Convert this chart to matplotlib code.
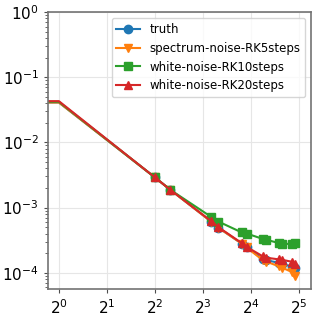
import matplotlib
matplotlib.use("Agg")
import matplotlib.pyplot as plt
import numpy as np

x = [0, 1, 4, 5, 9, 10, 14, 15, 19, 20, 24, 25, 29, 30]
truth = [0.041, 0.041, 0.0029, 0.00187, 6.1e-4, 4.9e-4, 2.8e-4, 2.45e-4,
         1.62e-4, 1.55e-4, 1.42e-4, 1.38e-4, 1.23e-4, 1.17e-4]
spectrum_rk5 = [0.041, 0.041, 0.0029, 0.00187, 6.1e-4, 4.9e-4, 2.8e-4, 2.45e-4,
                1.55e-4, 1.48e-4, 1.25e-4, 1.2e-4, 1.02e-4, 8.8e-5]
white_rk10 = [0.042, 0.042, 0.0029, 0.00187, 7.2e-4, 6.1e-4, 4.15e-4, 4.0e-4,
              3.3e-4, 3.2e-4, 2.85e-4, 2.8e-4, 2.75e-4, 2.9e-4]
white_rk20 = [0.043, 0.043, 0.0029, 0.00187, 6.2e-4, 5.0e-4, 2.85e-4, 2.5e-4,
              1.78e-4, 1.7e-4, 1.6e-4, 1.58e-4, 1.47e-4, 1.38e-4]
labels = ["truth", "spectrum-noise-RK5steps", "white-noise-RK10steps", "white-noise-RK20steps"]
markers = ["o", "v", "s", "^"]
colors = ["#1f77b4", "#ff7f0e", "#2ca02c", "#d62728"]
xticks = [1, 2, 4, 8, 16, 32]
yticks = [1e-4, 1e-3, 1e-2, 1e-1, 1e0]

fig = plt.figure(figsize=(3.19, 3.19), dpi=100)
ax = fig.add_axes([0.150, 0.094, 0.825, 0.868])
for y, lab, m, c in zip([truth, spectrum_rk5, white_rk10, white_rk20], labels, markers, colors):
    ax.plot(x, y, marker=m, color=c, label=lab, lw=1.5, ms=6, markevery=list(range(2, len(x))))
ax.set_xscale("log", base=2)
ax.set_yscale("log")
ax.set_xticks(xticks)
ax.set_xticks([], minor=True)
ax.set_yticks(yticks)
ax.set_xlim(2 ** -0.23, 2 ** 5.25)
ax.set_ylim(10 ** -4.25, 1)
ax.grid(True, which="major", color="0.9", lw=0.8)
for s in ax.spines.values():
    s.set_color("0.45")
    s.set_linewidth(1.2)
ax.tick_params(axis="both", which="major", labelsize=11, length=3, color="0.3")
ax.tick_params(axis="y", which="minor", length=2, color="0.3")
ax.legend(loc="upper right", fontsize=8.5, handlelength=2)
fig.savefig("out.png", dpi=100)
